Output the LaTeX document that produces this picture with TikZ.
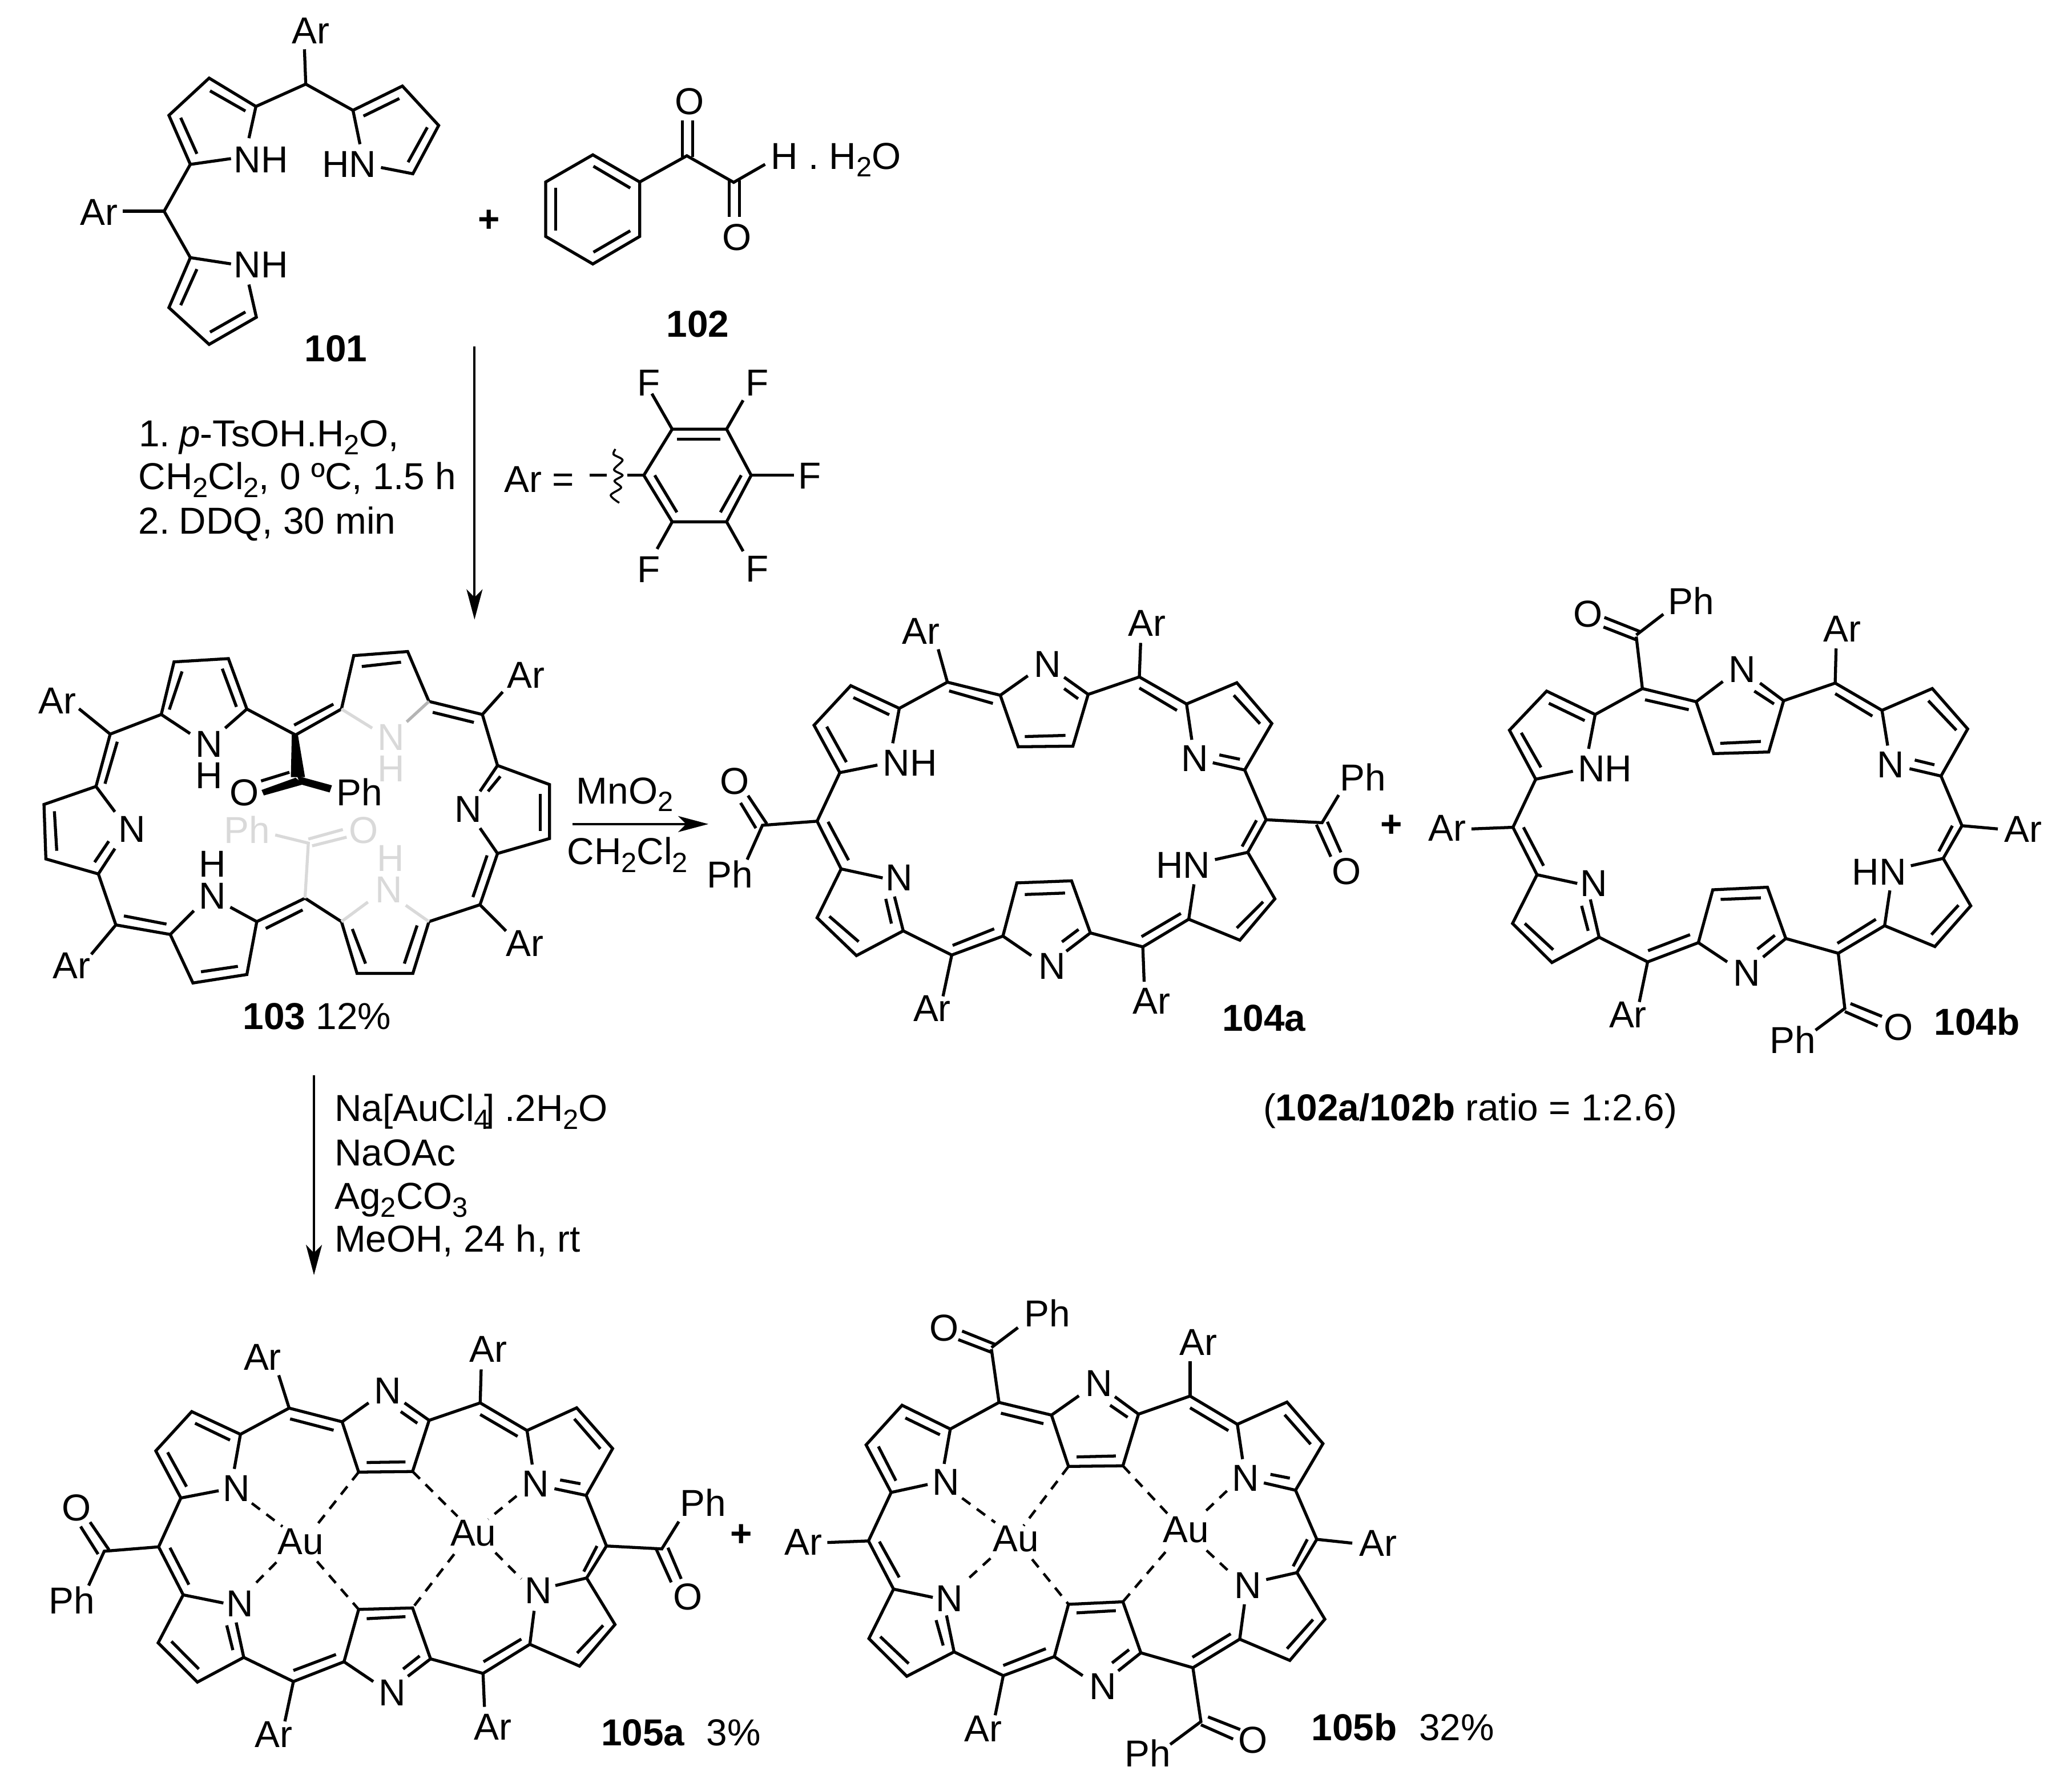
\documentclass[tikz,border=0pt]{standalone}
\usepackage{fontspec}
\setmainfont{Liberation Sans}
\usetikzlibrary{arrows.meta}
\newcounter{lbn}
\definecolor{gl}{HTML}{D9D9D9}
\definecolor{gm}{HTML}{B4B4B4}
\tikzset{
 bd/.style={line width=1.5pt},
 dsh/.style={line width=1.3pt,dash pattern=on 0.18cm off 0.14cm},
 grey/.style={line width=1.5pt,draw=gl},
 arr/.style={line width=1.15pt,-{Stealth[length=0.53cm,width=0.28cm,inset=0.14cm]}},
 lb/.style={anchor=base west,inner sep=0pt,outer sep=0pt,font=\fontsize{18.7pt}{22pt}\selectfont},
 st/.style={xshift=-0.05cm},
 ov/.style={xshift=-0.03cm}
}
\newcommand\lab[3][]{\stepcounter{lbn}\node[lb,#1] (n\arabic{lbn}) at (#2) {#3};}
\newcommand\labs[2]{\lab[st]{#1}{#2}}
\newcommand\labo[2]{\lab[ov]{#1}{#2}}
\newcommand\sbs[1]{\raisebox{-0.135cm}{\fontsize{13.9pt}{14pt}\selectfont #1}}
\newcommand\bnd{\draw[bd]}
\newcommand\dsb{\draw[dsh]}
\newcommand\plusat[1]{\stepcounter{lbn}\node[lb,anchor=center] (n\arabic{lbn}) at (#1) {\textbf{+}};}
\begin{document}
\begin{tikzpicture}
\useasboundingbox (0,0) rectangle (36.3,-31.24);
\fill[white] (0,0) rectangle (36.3,-31.24);

% ---- 101
\begin{scope}[shift={(0.6cm,0cm)},x=0.007653cm,y=-0.004209cm]
\lab{590,182}{Ar}
\bnd (618,205)--(621,350);
\bnd (491,575)--(507,443)--(400,325)--(308,480)--(357,684)--(450,660);
\bnd (483,462)--(402,378);
\bnd (335,490)--(372,640);
\bnd (507,443)--(621,350)--(729,459);
\bnd (745,600)--(729,459)--(842,358)--(925,522)--(866,723)--(793,697);
\bnd (753,483)--(835,410);
\bnd (899,530)--(855,675);
\labs{463,718}{NH}
\labs{665,738}{HN}
\bnd (357,684)--(297,879)--(357,1072);
\bnd (203,879)--(297,879);
\lab{105,937}{Ar}
\bnd (450,1098)--(357,1072)--(308,1280)--(400,1433)--(508,1320)--(491,1184);
\bnd (372,1120)--(335,1270);
\bnd (402,1382)--(483,1298);
\labs{463,1155}{NH}
\labs{625,1505}{\textbf{101}}
\plusat{1040,920}
\end{scope}

% ---- 102
\begin{scope}[shift={(9cm,-1cm)},x=0.005cm,y=-0.003333cm]
\bnd (277,515)--(441,658)--(441,945)--(277,1090)--(112,945)--(112,658)--cycle;
\bnd (279,575)--(408,690);
\bnd (408,915)--(279,1028);
\bnd (147,915)--(147,688);
\bnd (441,658)--(606,520)--(770,660)--(880,565);
\bnd (590,525)--(590,335);
\bnd (626,525)--(626,335);
\bnd (755,650)--(755,842);
\bnd (790,650)--(790,842);
\labo{570,302}{O}
\labo{737,1017}{O}
\labs{910,590}{H . H\sbs{2}O}
\labs{545,1475}{\textbf{102}}
\end{scope}

% ---- first arrow, conditions, Ar definition
\begin{scope}[shift={(2cm,-5.8cm)},x=0.008291cm,y=-0.003333cm]
\coordinate (a1s) at (762,82);
\coordinate (a1e) at (762,1520);
\draw[arr] (a1s)--(a1e);
\labs{58,610}{1.\kern-0.08cm{} \textit{p}-TsOH.H\sbs{2}O,}
\labo{55,835}{CH\sbs{2}Cl\sbs{2}, 0 ºC, 1.5 h}
\labo{55,1068}{2.\kern-0.08cm{} DDQ, 30 min}
\lab{825,848}{Ar =}
\draw[line width=1.5pt] (1005,760)--(1042,760);
\draw[line width=1pt] plot[smooth] coordinates {(1060,622)(1056,650)(1075,680)(1057,730)(1075,760)(1058,790)(1072,825)(1050,865)(1068,905)};
\bnd (1085,760)--(1120,760);
\bnd (1120,760)--(1180,517)--(1295,517)--(1347,760)--(1295,1005)--(1180,1005)--cycle;
\bnd (1190,570)--(1282,570);
\bnd (1326,760)--(1282,955);
\bnd (1143,760)--(1190,955);
\bnd (1180,517)--(1137,330);
\bnd (1295,517)--(1330,365);
\bnd (1347,760)--(1437,760);
\bnd (1180,1005)--(1148,1148);
\bnd (1295,1005)--(1330,1160);
\labs{1112,340}{F}
\labs{1342,342}{F}
\labs{1452,832}{F}
\labs{1112,1323}{F}
\labs{1342,1320}{F}
\end{scope}

% ---- 103
\begin{scope}[shift={(0cm,-11cm)},x=0.008291cm,y=-0.004783cm]
\lab{82,316}{Ar}
\bnd (167,297)--(233,390);
\bnd (233,390)--(341,318)--(402,388);
\bnd (476,368)--(522,298)--(483,113)--(368,125)--(341,318);
\bnd (358,300)--(385,160);
\bnd (470,150)--(500,290);
\bnd (522,298)--(625,393)--(722,298)--(748,102)--(862,87)--(907,270)--(1020,318);
\bnd (622,357)--(705,280);
\bnd (765,142)--(848,126);
\bnd (915,310)--(1002,347);
\bnd (1020,318)--(1063,235);
\lab{1072,220}{Ar}
\bnd (1015,600)--(1052,505)--(1162,575)--(1162,773)--(1052,828)--(1015,735);
\bnd (1020,318)--(1052,505);
\bnd (1058,545)--(1032,600);
\bnd (1142,610)--(1142,745);
\labs{967,712}{N}
\bnd (1052,828)--(1015,1016);
\bnd (1030,835)--(1000,988);
\bnd (1015,1016)--(1070,1112);
\lab{1070,1205}{Ar}
\bnd (1015,1016)--(907,1078)--(873,1268)--(755,1268)--(722,1078)--(645,992);
\bnd (882,1092)--(855,1232);
\bnd (745,1105)--(773,1232);
\draw[grey] (722,1078)--(778,1006);
\draw[grey] (907,1078)--(858,1018);
\lab[st,text=gl]{800,1008}{N}
\lab[st,text=gl]{803,893}{H}
\bnd (487,1025)--(543,1078)--(645,992);
\bnd (640,1035)--(562,1103);
\bnd (543,1078)--(522,1272)--(408,1303)--(360,1125)--(245,1090);
\bnd (503,1242)--(425,1262);
\bnd (352,1087)--(262,1057);
\bnd (360,1125)--(410,1038);
\labs{427,1032}{N}
\labs{427,915}{H}
\bnd (193,1198)--(245,1090)--(208,903);
\lab{112,1287}{Ar}
\bnd (243,810)--(208,903)--(97,848)--(93,648)--(203,582)--(243,675);
\bnd (200,860)--(230,783);
\bnd (120,818)--(115,673);
\labs{257,787}{N}
\bnd (203,582)--(233,390);
\bnd (222,572)--(248,418);
\labs{420,474}{N}
\labs{420,590}{H}
\labs{718,652}{Ph}
\labo{490,652}{O}
\fill (617,393)--(630,393)--(645,548)--(615,548)--cycle;
\fill (628,543)--(702,578)--(697,604)--(635,574)--cycle;
\fill (642,574)--(558,615)--(553,595)--(625,550)--cycle;
\bnd (612,530)--(552,562);
\lab[st,text=gl]{480,790}{Ph}
\lab[ov,text=gl]{742,790}{O}
\draw[grey] (645,992)--(652,790)--(582,760);
\draw[grey] (652,775)--(725,740);
\draw[grey] (660,800)--(733,768);
\draw[grey] (722,298)--(787,368);
\draw[line width=1.5pt,draw=gm] (907,270)--(860,345);
\lab[st,text=gl]{805,450}{N}
\lab[st,text=gl]{805,565}{H}
\labs{520,1474}{\textbf{103} 12\%}
\labs{1225,645}{MnO\sbs{2}}
\labo{1203,868}{CH\sbs{2}Cl\sbs{2}}
\coordinate (a2s) at (1210,720);
\coordinate (a2e) at (1498,720);
\draw[arr] (a2s)--(a2e);
\end{scope}

% ---- 104a
\begin{scope}[shift={(12.4cm,-10.5cm)},x=0.007653cm,y=-0.005102cm]
\lab{445,155}{Ar}
\bnd (527,172)--(548,285);
\bnd (732,263)--(669,330)--(548,285)--(438,375)--(327,297)--(243,433)--(302,596)--(388,570);
\bnd (552,315)--(652,358);
\bnd (438,375)--(423,495);
\bnd (415,397)--(333,338);
\bnd (272,438)--(317,560);
\labs{407,607}{NH}
\labs{752,268}{N}
\bnd (669,330)--(710,507)--(835,505)--(870,327)--(815,268);
\bnd (725,472)--(818,468);
\bnd (847,342)--(815,307);
\bnd (870,327)--(987,267)--(1095,360)--(1210,287)--(1290,427)--(1228,587)--(1155,562);
\bnd (987,305)--(1073,382);
\bnd (1203,330)--(1263,428);
\bnd (1217,550)--(1170,535);
\bnd (987,267)--(990,150);
\lab{962,127}{Ar}
\bnd (1095,360)--(1107,483);
\labs{1090,592}{N}
\bnd (1228,587)--(1277,758)--(1405,768)--(1443,673);
\labs{1453,658}{Ph}
\bnd (1277,758)--(1235,870);
\bnd (1255,760)--(1222,850);
\bnd (1160,895)--(1235,870)--(1297,1030)--(1217,1172)--(1100,1100)--(1112,980);
\bnd (1270,1040)--(1210,1130);
\bnd (1082,1080)--(992,1160);
\labs{1032,958}{HN}
\bnd (1392,775)--(1425,885);
\bnd (1417,765)--(1448,870);
\labo{1432,980}{O}
\bnd (1100,1100)--(995,1195)--(875,1147)--(832,968)--(707,975)--(675,1158)--(740,1225);
\bnd (817,1010)--(725,1015);
\bnd (848,1135)--(810,1178);
\bnd (875,1147)--(820,1210);
\bnd (995,1195)--(998,1315);
\lab{972,1425}{Ar}
\bnd (675,1158)--(558,1223)--(447,1140)--(340,1225)--(250,1095)--(305,927)--(400,958);
\bnd (655,1133)--(560,1190);
\bnd (345,1177)--(278,1090);
\bnd (447,1140)--(427,1022);
\bnd (420,1115)--(407,1030);
\bnd (558,1223)--(538,1365);
\lab{470,1452}{Ar}
\labs{413,1002}{N}
\labs{763,1305}{N}
\bnd (305,927)--(250,763)--(302,596);
\bnd (322,897)--(275,765);
\bnd (250,763)--(125,777)--(90,895);
\labs{5,992}{Ph}
\bnd (110,787)--(75,700);
\bnd (135,772)--(92,675);
\labo{32,670}{O}
\labs{1183,1485}{\textbf{104a}}
\end{scope}

% ---- 104b
\begin{scope}[shift={(24.3cm,-10.2cm)},x=0.007653cm,y=-0.005612cm]
\plusat{10,760}
\labs{650,100}{Ph}
\labo{430,140}{O}
\bnd (570,165)--(632,100);
\bnd (497,110)--(580,155);
\bnd (495,140)--(570,180);
\bnd (570,170)--(584,332);
\bnd (768,310)--(707,373)--(584,332)--(476,413)--(365,340)--(280,462)--(340,615)--(425,590);
\bnd (590,367)--(690,398);
\bnd (476,413)--(461,520);
\bnd (452,432)--(370,378);
\bnd (307,470)--(352,578);
\labs{443,622}{NH}
\labs{788,313}{N}
\bnd (707,373)--(747,535)--(873,530)--(907,370)--(853,315);
\bnd (762,503)--(855,497);
\bnd (885,380)--(840,340);
\bnd (907,370)--(1025,315)--(1132,400)--(1247,332)--(1328,458)--(1267,605)--(1195,582);
\bnd (1025,348)--(1110,418);
\bnd (1238,370)--(1302,462);
\bnd (1252,570)--(1207,555);
\bnd (1025,315)--(1027,207);
\lab{998,186}{Ar}
\bnd (1132,400)--(1145,510);
\labs{1127,610}{N}
\bnd (1267,605)--(1315,760)--(1397,770);
\lab{1412,812}{Ar}
\bnd (1315,760)--(1272,862);
\bnd (1293,760)--(1262,840);
\bnd (1198,885)--(1272,862)--(1335,1010)--(1253,1137)--(1138,1072)--(1150,962);
\bnd (1307,1008)--(1245,1100);
\bnd (1118,1052)--(1030,1127);
\labs{1070,945}{HN}
\bnd (1138,1072)--(1032,1158)--(912,1112)--(870,952)--(745,960)--(712,1125)--(778,1185);
\bnd (855,985)--(763,990);
\bnd (887,1102)--(847,1145);
\bnd (912,1112)--(860,1170);
\bnd (1032,1158)--(1047,1330)--(980,1398);
\bnd (1060,1315)--(1132,1355);
\bnd (1047,1340)--(1122,1385);
\labo{1140,1430}{O}
\labs{882,1470}{Ph}
\bnd (712,1125)--(596,1185)--(485,1108)--(377,1187)--(287,1065)--(343,913)--(435,940);
\bnd (693,1100)--(597,1150);
\bnd (380,1147)--(315,1065);
\bnd (485,1108)--(465,990);
\bnd (460,1088)--(445,1010);
\bnd (596,1185)--(577,1310);
\lab{508,1390}{Ar}
\labs{448,980}{N}
\labs{798,1260}{N}
\bnd (343,913)--(288,765)--(340,615);
\bnd (358,885)--(312,765);
\bnd (288,765)--(193,770);
\lab{95,808}{Ar}
\labs{1258,1413}{\textbf{104b}}
\end{scope}

% ---- ratio text
\begin{scope}[shift={(21.8cm,-18.8cm)},x=0.005cm,y=-0.003333cm]
\labo{72,250}{(\textbf{102a/102b} ratio = 1:2.6)}
\end{scope}

% ---- second arrow
\begin{scope}[shift={(4.8cm,-18.5cm)},x=0.005cm,y=-0.003333cm]
\coordinate (a3s) at (140,102);
\coordinate (a3e) at (140,1155);
\draw[arr] (a3s)--(a3e);
\labs{222,345}{Na[AuCl\sbs{4}\kern-0.1cm] .2H\sbs{2}O}
\labs{222,580}{NaOAc}
\lab{213,808}{Ag\sbs{2}CO\sbs{3}}
\labs{222,1033}{MeOH, 24 h, rt}
\end{scope}

% ---- 105a
\begin{scope}[shift={(0.6cm,-23cm)},x=0.008291cm,y=-0.005102cm]
\lab{443,197}{Ar}
\bnd (517,215)--(539,328);
\bnd (707,310)--(651,375)--(539,328)--(436,418)--(333,340)--(257,475)--(310,637)--(390,612);
\bnd (541,365)--(633,404);
\bnd (436,418)--(423,537);
\bnd (414,438)--(340,380);
\bnd (282,480)--(322,598);
\labs{405,648}{N}
\labs{725,312}{N}
\bnd (651,375)--(686,548)--(800,546)--(835,370)--(783,310);
\bnd (703,515)--(785,513);
\bnd (810,380)--(775,340);
\bnd (835,370)--(943,310)--(1042,405)--(1147,327)--(1223,467)--(1167,628)--(1100,605);
\bnd (943,350)--(1022,425);
\bnd (1142,365)--(1197,468);
\bnd (1155,588)--(1112,575);
\bnd (943,310)--(945,195);
\lab{920,170}{Ar}
\bnd (1042,405)--(1053,522);
\labs{1037,633}{N}
\bnd (1167,628)--(1210,802)--(1327,812)--(1363,718);
\labs{1372,700}{Ph}
\bnd (1210,802)--(1168,912);
\bnd (1190,802)--(1162,890);
\bnd (1315,812)--(1347,927);
\bnd (1340,808)--(1368,915);
\labo{1355,1022}{O}
\bnd (1102,938)--(1168,912)--(1228,1072)--(1153,1215)--(1048,1140)--(1057,1025);
\bnd (1203,1075)--(1148,1170);
\bnd (1030,1122)--(950,1200);
\labs{1043,1000}{N}
\bnd (1048,1140)--(949,1240)--(838,1190)--(800,1015)--(686,1020)--(655,1200)--(717,1268);
\bnd (785,1045)--(703,1052);
\bnd (815,1180)--(780,1225);
\bnd (838,1190)--(790,1250);
\bnd (949,1240)--(952,1355);
\lab{930,1468}{Ar}
\bnd (655,1200)--(548,1268)--(443,1185)--(345,1270)--(262,1135)--(315,970)--(400,998);
\bnd (638,1175)--(548,1230);
\bnd (348,1225)--(290,1130);
\bnd (443,1185)--(427,1065);
\bnd (420,1160)--(407,1075);
\bnd (548,1268)--(530,1405);
\lab{467,1495}{Ar}
\labs{735,1350}{N}
\labs{412,1045}{N}
\bnd (315,970)--(263,805)--(310,637);
\bnd (327,935)--(287,808);
\bnd (263,805)--(148,820)--(115,938);
\labs{37,1035}{Ph}
\bnd (135,830)--(98,735);
\bnd (158,815)--(118,720);
\labo{62,715}{O}
\lab{515,830}{Au}
\lab{880,802}{Au}
\dsb (460,655)--(525,735);
\dsb (686,548)--(595,735);
\dsb (800,546)--(895,700);
\dsb (1020,630)--(960,710);
\dsb (975,825)--(1030,915);
\dsb (888,830)--(800,1015);
\dsb (598,855)--(686,1020);
\dsb (512,858)--(462,940);
\plusat{1495,765}
\labs{1205,1488}{\textbf{105a}}
\labo{1425,1488}{3\%}
\end{scope}

% ---- 105b
\begin{scope}[shift={(13.5cm,-22.5cm)},x=0.008291cm,y=-0.005548cm]
\labs{543,135}{Ph}
\labo{340,180}{O}
\bnd (467,200)--(523,137);
\bnd (405,148)--(475,190);
\bnd (397,175)--(467,215);
\bnd (467,205)--(483,373);
\bnd (652,352)--(594,413)--(483,373)--(380,457)--(278,382)--(202,507)--(255,657)--(332,632);
\bnd (487,407)--(577,440);
\bnd (380,457)--(367,567);
\bnd (358,475)--(285,422);
\bnd (228,512)--(265,620);
\labs{348,665}{N}
\labs{672,353}{N}
\bnd (594,413)--(630,575)--(745,573)--(778,410)--(728,355);
\bnd (647,545)--(730,542);
\bnd (755,420)--(718,382);
\bnd (778,410)--(887,353)--(987,442)--(1092,372)--(1168,503)--(1110,650)--(1043,627);
\bnd (887,390)--(968,462);
\bnd (1087,412)--(1142,505);
\bnd (1098,612)--(1057,600);
\bnd (887,353)--(887,243);
\lab{865,225}{Ar}
\bnd (987,442)--(998,552);
\labs{982,652}{N}
\bnd (1110,650)--(1155,805)--(1230,817);
\lab{1245,858}{Ar}
\bnd (1155,805)--(1113,910);
\bnd (1135,805)--(1105,890);
\bnd (1048,932)--(1113,910)--(1172,1057)--(1098,1187)--(992,1120)--(1002,1010);
\bnd (1147,1058)--(1092,1150);
\bnd (973,1103)--(892,1177);
\labs{987,992}{N}
\bnd (992,1120)--(893,1210)--(783,1163)--(745,1002)--(630,1010)--(600,1175)--(660,1235);
\bnd (730,1030)--(647,1037);
\bnd (758,1153)--(722,1195);
\bnd (783,1163)--(735,1220);
\bnd (893,1210)--(910,1380)--(845,1452);
\bnd (925,1365)--(993,1405);
\bnd (910,1390)--(978,1435);
\labo{993,1480}{O}
\labs{755,1523}{Ph}
\bnd (600,1175)--(492,1235)--(388,1160)--(288,1237)--(208,1118)--(260,962)--(343,988);
\bnd (582,1150)--(492,1203);
\bnd (292,1197)--(232,1112);
\bnd (388,1160)--(372,1045);
\bnd (365,1140)--(350,1060);
\bnd (492,1235)--(475,1360);
\lab{410,1443}{Ar}
\labs{680,1310}{N}
\labs{355,1032}{N}
\bnd (260,962)--(207,810)--(255,657);
\bnd (272,925)--(230,812);
\bnd (207,810)--(120,815);
\lab{30,855}{Ar}
\lab{470,843}{Au}
\lab{830,815}{Au}
\dsb (405,675)--(475,752);
\dsb (630,575)--(535,762);
\dsb (745,573)--(840,725);
\dsb (965,652)--(910,730);
\dsb (922,840)--(972,910);
\dsb (835,845)--(745,1002);
\dsb (553,868)--(630,1010);
\dsb (465,865)--(410,940);
\labs{1150,1440}{\textbf{105b}}
\labo{1375,1440}{32\%}
\end{scope}
\end{tikzpicture}
\end{document}
